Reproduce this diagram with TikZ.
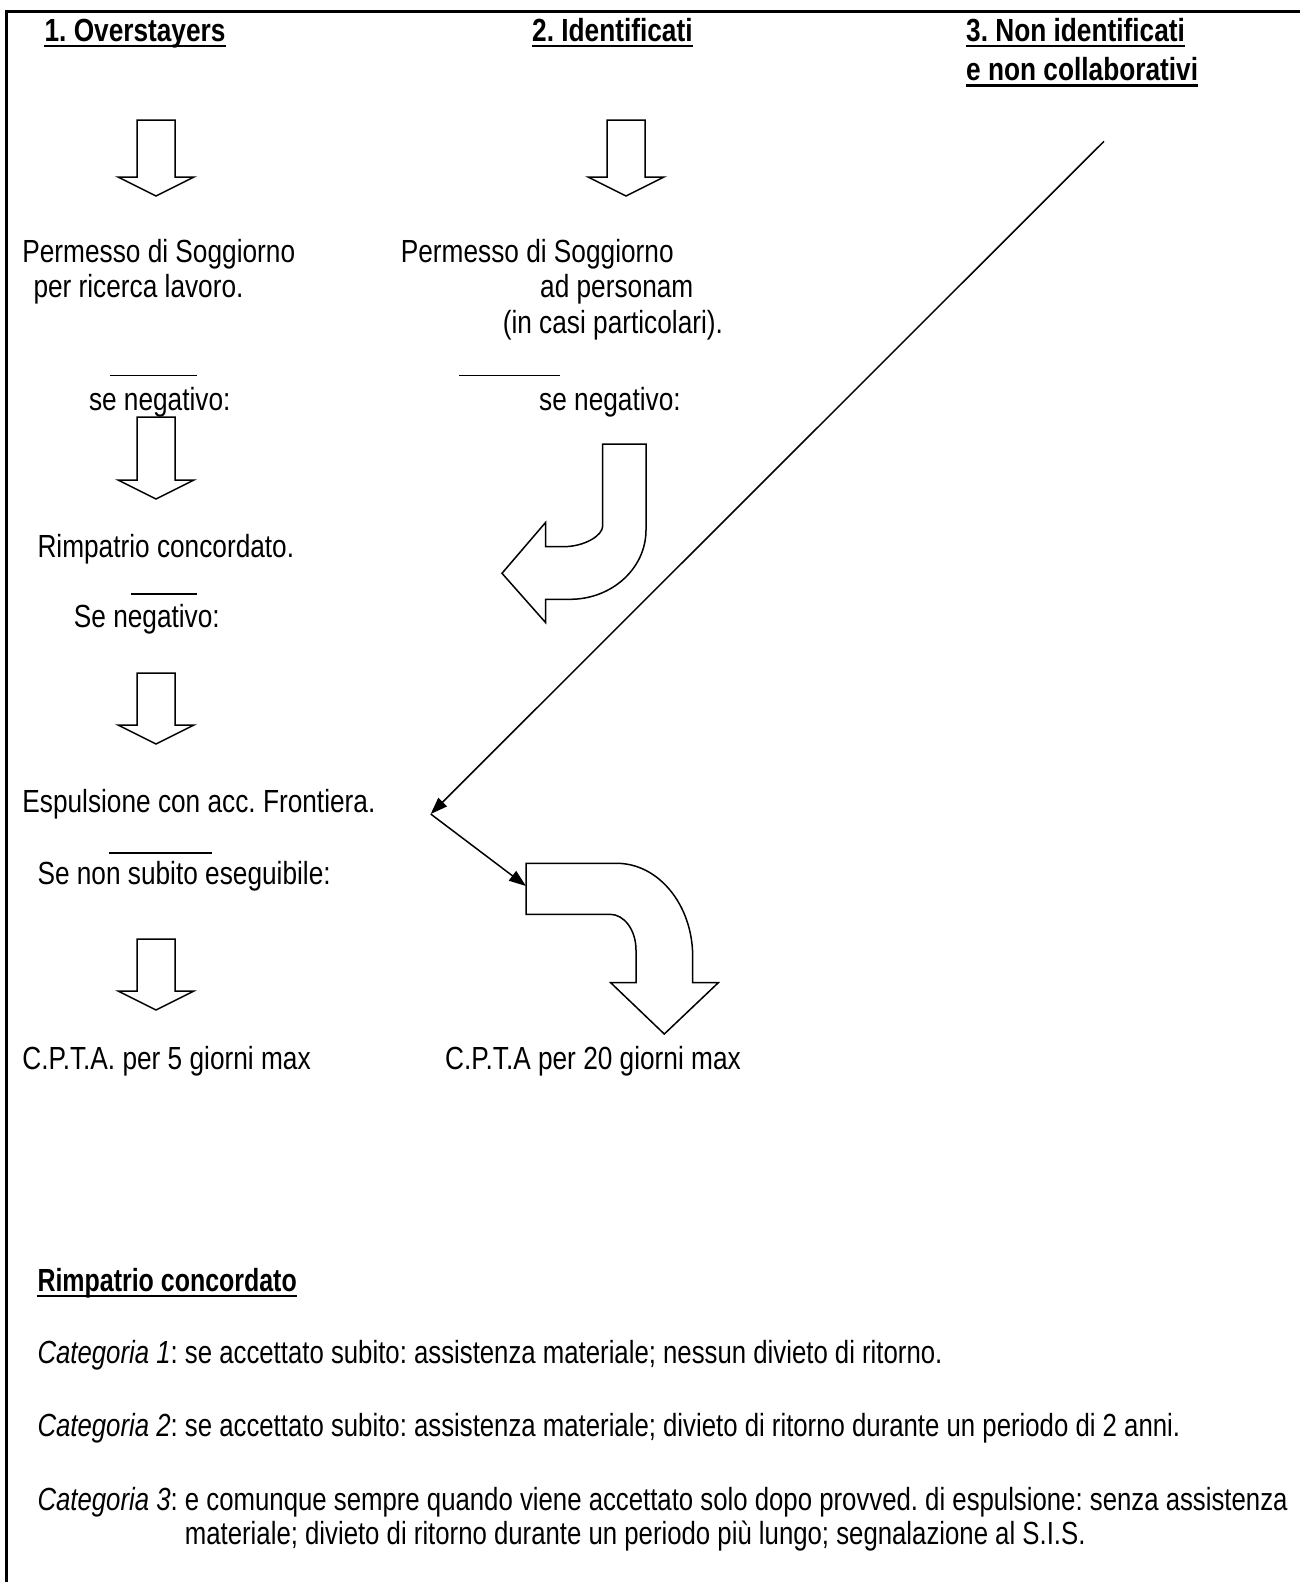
\documentclass[tikz,border=0pt]{standalone}
\usepackage{fontspec}
\setmainfont[FakeStretch=0.82]{Liberation Sans}
\newfontfamily\legendfont[FakeStretch=0.805]{Liberation Sans}
\newfontfamily\legendhead[FakeStretch=0.78]{Liberation Sans}
\usetikzlibrary{arrows.meta}
\newcommand\DownBlk[3]{\draw[blk] ({#1-19},#2) -- ({#1+19},#2) -- ({#1+19},{#3-19}) -- ({#1+38},{#3-19}) -- (#1,#3) -- ({#1-38},{#3-19}) -- ({#1-19},{#3-19}) -- cycle;}
\begin{document}
\frenchspacing
\begin{tikzpicture}[x=1pt,y=-1pt,
  txt/.style={anchor=base west,inner sep=0pt,font=\fontsize{32}{38}\selectfont},
  hdr/.style={anchor=base west,inner sep=0pt,font=\fontsize{32}{38}\selectfont\bfseries},
  leg/.style={anchor=base west,inner sep=0pt,font=\legendfont\fontsize{32}{38}\selectfont},
  blk/.style={draw,line width=1.5pt,line join=miter},
  sep/.style={line width=1.5pt},
  uline/.style={line width=2.5pt},
  conn/.style={line width=1.5pt,-{Triangle[length=17pt,width=12pt]}},
]
\useasboundingbox (0,0) rectangle (1300,1582);
\draw[line width=3pt] (6,1582) -- (6,11) -- (1300,11);

% headers
\node[hdr] (h1) at (44.4,41) {1. Overstayers};
\node[hdr] (h2) at (532,41) {2. Identificati};
\node[hdr] (h3a) at (966,41) {3. Non identificati};
\node[hdr] (h3b) at (966,80.7) {e non collaborativi};
\foreach \n in {h1,h2,h3a,h3b}
  \draw[uline] ([yshift=-5pt]\n.base west) -- ([yshift=-5pt]\n.base east);

% block arrows
\DownBlk{156}{120}{196}
\DownBlk{626}{120}{196}
\DownBlk{156}{417}{499}
\DownBlk{156}{673}{744}
\DownBlk{156}{939}{1010}

% column 1
\node[txt] (p1a) at (22.2,262.4) {Permesso di Soggiorno};
\node[txt] (p1b) at (33.3,297.7) {per ricerca lavoro.};
\draw[sep] (110,375.5) -- (196.8,375.5);
\node[txt] (n1) at (88.8,410.8) {se negativo:};
\node[txt] (r1) at (37.3,557) {Rimpatrio concordato.};
\draw[sep] (131,594) -- (197,594);
\node[txt] (n3) at (73.7,627.8) {Se negativo:};
\node[txt] (e1) at (22.2,812.5) {Espulsione con acc. Frontiera.};
\draw[sep] (109,853) -- (212,853);
\node[txt] (s1) at (37.3,884) {Se non subito eseguibile:};
\node[txt] (c1) at (22.2,1069.8) {C.P.T.A. per 5 giorni max};

% column 2
\node[txt] (p2a) at (400.7,262.4) {Permesso di Soggiorno};
\node[txt] (p2b) at (540,297.7) {ad personam};
\node[txt] (p2c) at (502.6,333) {(in casi particolari).};
\draw[sep] (459,375.5) -- (560,375.5);
\node[txt] (n2) at (539,410.8) {se negativo:};
\node[txt] (c2) at (445,1069.8) {C.P.T.A per 20 giorni max};

% curved block arrow 1 (down then left)
\draw[blk] (602.7,444) -- (646,444) -- (646,530)
  .. controls (646,568.3) and (612,599.3) .. (570,599.3)
  -- (545.7,599.3) -- (545.7,622.7) -- (502,573.3) -- (545.7,522.3)
  -- (545.7,546.7) -- (563,546.7)
  .. controls (584.9,546.7) and (602.7,535.3) .. (602.7,526) -- cycle;

% curved block arrow 2 (right then down)
\draw[blk] (526,863.3) -- (616.7,863.3)
  .. controls (658.7,863.3) and (692.7,905.1) .. (692.7,956.7)
  -- (692.7,982.7) -- (718.3,982.7) -- (664.3,1034) -- (610.7,982.7)
  -- (636,982.7) -- (636,950)
  .. controls (636,930.3) and (624.4,914.3) .. (610,914.3)
  -- (526,914.3) -- cycle;

% diagonal connectors
\coordinate (d0) at (1104,141.3);
\coordinate (d1) at (430.7,814);
\coordinate (d2) at (526,886);
\draw[conn] (d0) -- (d1);
\draw[conn] (d1) -- (d2);

% legend
\node[anchor=base west,inner sep=0pt,font=\legendhead\fontsize{32}{38}\selectfont\bfseries] (rc) at (37.3,1291) {Rimpatrio concordato};
\draw[uline] ([yshift=-5pt]rc.base west) -- ([yshift=-5pt]rc.base east);
\node[leg] (k1) at (37.3,1363.5) {\textit{Categoria 1}: se accettato subito: assistenza materiale; nessun divieto di ritorno.};
\node[leg] (k2) at (37.3,1436) {\textit{Categoria 2}: se accettato subito: assistenza materiale; divieto di ritorno durante un periodo di 2 anni.};
\node[leg] (k3) at (37.3,1510) {\textit{Categoria 3}: e comunque sempre quando viene accettato solo dopo provved. di espulsione: senza assistenza};
\node[leg] (k3b) at (184.7,1544) {materiale; divieto di ritorno durante un periodo più lungo; segnalazione al S.I.S.};
\end{tikzpicture}
\end{document}
